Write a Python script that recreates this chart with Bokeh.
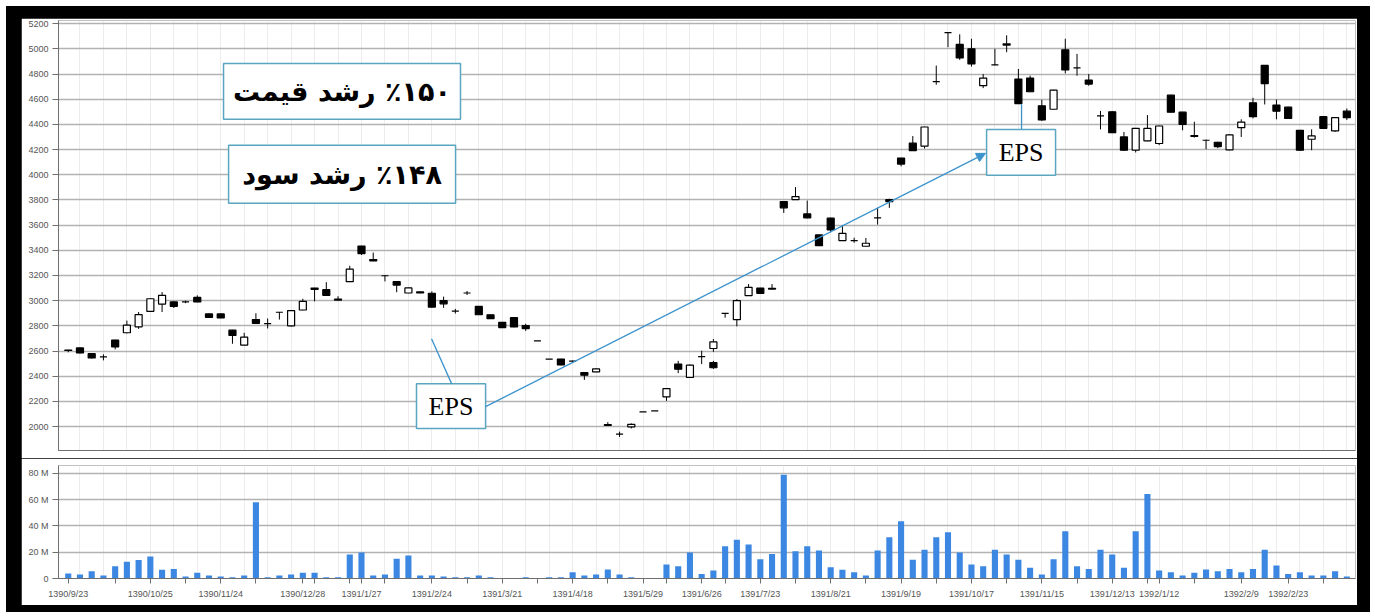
from bokeh.plotting import figure
from bokeh.models import (ColumnDataSource, Range1d, FixedTicker, BoxAnnotation,
                          Label, Arrow, NormalHead, Spacer)
from bokeh.layouts import column, row
from bokeh.embed import file_html
from bokeh.resources import INLINE

# ---------------- data (one entry per trading session) ----------------
opens = [2605, 2625, 2579, 2553, 2687, 2745, 2792, 2915, 2973, 2990,
         2990, 3026, 2895, 2895, 2766, 2647, 2850, 2818, 2908, 2800,
         2926, 3100, 3087, 3005, 3151, 3434, 3316, 3198, 3151, 3061,
         3069, 3059, 3001, 2917, 3061, 2954, 2888, 2828, 2865, 2802,
         2681, 2536, 2536, 2520, 2429, 2434, 2010, 1940, 1997, 2117,
         2125, 2236, 2496, 2390, 2555, 2620, 2899, 2849, 3040, 3100,
         3092, 3787, 3803, 3689, 3522, 3655, 3477, 3477, 3432, 3657,
         3803, 4133, 4251, 4227, 4739, 5128, 5035, 5000, 4707, 4872,
         5030, 4760, 4768, 4547, 4520, 4992, 4848, 4752, 4467, 4500,
         4300, 4195, 4269, 4248, 4632, 4497, 4310, 4274, 4258, 4198,
         4374, 4571, 4868, 4553, 4537, 4353, 4282, 4461, 4348, 4505]
highs = [2610, 2628, 2582, 2574, 2690, 2842, 2910, 3020, 3068, 2995,
         3000, 3042, 2897, 2897, 2768, 2745, 2900, 2858, 2910, 2925,
         3015, 3102, 3147, 3035, 3277, 3436, 3382, 3202, 3153, 3103,
         3072, 3074, 3032, 2935, 3077, 2957, 2890, 2830, 2870, 2817,
         2681, 2536, 2538, 2525, 2431, 2460, 2035, 1960, 2025, 2117,
         2125, 2305, 2522, 2492, 2602, 2695, 2902, 3013, 3132, 3102,
         3132, 3790, 3902, 3795, 3525, 3660, 3597, 3500, 3498, 3737,
         3810, 4135, 4307, 4382, 4867, 5130, 5115, 5080, 4800, 5000,
         5107, 4840, 4787, 4595, 4675, 5080, 4960, 4800, 4507, 4505,
         4340, 4372, 4474, 4390, 4635, 4500, 4421, 4278, 4262, 4320,
         4440, 4611, 4870, 4597, 4540, 4356, 4361, 4463, 4456, 4526]
lows = [2590, 2580, 2540, 2526, 2613, 2740, 2776, 2912, 2910, 2942,
        2980, 2988, 2866, 2861, 2658, 2645, 2818, 2779, 2850, 2795,
        2923, 2995, 3040, 3003, 3148, 3363, 3314, 3153, 3067, 3059,
        3060, 2944, 2943, 2898, 3045, 2886, 2855, 2784, 2789, 2760,
        2681, 2536, 2487, 2505, 2371, 2432, 2008, 1918, 1985, 2117,
        2125, 2204, 2424, 2388, 2496, 2594, 2865, 2796, 3037, 3056,
        3090, 3697, 3800, 3655, 3435, 3543, 3475, 3460, 3430, 3604,
        3737, 4067, 4190, 4208, 4715, 5013, 4912, 4859, 4688, 4870,
        4973, 4563, 4656, 4427, 4518, 4805, 4787, 4707, 4360, 4330,
        4190, 4177, 4266, 4235, 4495, 4353, 4295, 4203, 4211, 4195,
        4300, 4448, 4558, 4440, 4445, 4190, 4195, 4365, 4340, 4435]
closes = [2608, 2585, 2545, 2553, 2632, 2805, 2889, 3015, 3042, 2955,
          2990, 2990, 2868, 2863, 2724, 2710, 2820, 2818, 2908, 2921,
          2995, 3090, 3042, 3012, 3250, 3374, 3326, 3198, 3124, 3101,
          3062, 2949, 2975, 2917, 3061, 2888, 2857, 2786, 2791, 2778,
          2681, 2536, 2489, 2520, 2408, 2458, 2015, 1940, 2018, 2117,
          2125, 2302, 2456, 2488, 2555, 2673, 2899, 3000, 3106, 3058,
          3098, 3737, 3827, 3658, 3437, 3562, 3535, 3477, 3456, 3657,
          3787, 4085, 4192, 4379, 4739, 5128, 4928, 4880, 4768, 4872,
          5040, 4565, 4659, 4435, 4672, 4832, 4848, 4720, 4467, 4334,
          4195, 4369, 4369, 4387, 4497, 4400, 4305, 4274, 4224, 4316,
          4418, 4461, 4724, 4505, 4447, 4195, 4308, 4369, 4453, 4453]
# trading volume, millions of shares
volume_m = [3.8, 3.0, 5.6, 2.3, 9.4, 12.7, 14.0, 16.7, 6.6, 7.3,
            1.5, 4.3, 2.3, 1.5, 1.0, 2.3, 58.0, 1.0, 2.3, 3.0,
            4.3, 4.3, 1.0, 1.0, 18.2, 19.7, 2.3, 3.0, 15.0, 17.5,
            2.3, 2.3, 1.5, 1.0, 1.0, 2.3, 1.0, 0.3, 0.0, 1.0,
            0.0, 1.0, 1.0, 4.8, 2.3, 3.0, 6.8, 3.0, 1.0, 0.0,
            0.0, 10.6, 9.4, 19.7, 3.5, 6.0, 24.5, 29.4, 25.8, 14.7,
            18.7, 79.0, 20.8, 24.6, 21.3, 8.6, 6.6, 4.8, 2.3, 21.3,
            31.4, 43.5, 14.2, 21.8, 31.4, 35.2, 19.7, 10.6, 9.4, 21.8,
            18.2, 14.2, 8.1, 3.0, 14.7, 36.0, 9.4, 7.3, 21.8, 18.2,
            8.1, 36.0, 64.3, 6.0, 4.8, 2.3, 4.3, 6.8, 5.6, 7.3,
            4.8, 7.3, 21.8, 9.9, 3.5, 4.8, 2.3, 2.3, 5.6, 1.5]
# a second print drawn on the same session
extra_session = [55]
extra_open = [2509]
extra_high = [2522]
extra_low = [2458]
extra_close = [2467]

price_ticks = [2000, 2200, 2400, 2600, 2800, 3000, 3200, 3400, 3600, 3800,
               4000, 4200, 4400, 4600, 4800, 5000, 5200]
volume_ticks = [0, 20, 40, 60, 80]
volume_tick_labels = ["0", "20 M", "40 M", "60 M", "80 M"]
date_tick_sessions = [0, 4, 7, 10, 13, 16, 20, 21, 24, 25, 27, 31, 34, 37, 40,
                      43, 46, 49, 51, 54, 56, 59, 62, 65, 68, 71, 74, 77, 80,
                      83, 86, 89, 92, 93, 96, 100, 104, 107]
date_label_sessions = [0, 7, 13, 20, 25, 31, 37, 43, 49, 54, 59, 65, 71, 77,
                       83, 89, 93, 100, 104]
date_labels = ["1390/9/23", "1390/10/25", "1390/11/24", "1390/12/28",
               "1391/1/27", "1391/2/24", "1391/3/21", "1391/4/18",
               "1391/5/29", "1391/6/26", "1391/7/23", "1391/8/21",
               "1391/9/19", "1391/10/17", "1391/11/15", "1391/12/13",
               "1392/1/12", "1392/2/9", "1392/2/23"]

price_note = "\u200f٪۱۵۰ رشد قیمت"
profit_note = "\u200f٪۱۴۸ رشد سود"
eps_note = "EPS"

# ---------------- sources ----------------
n = len(opens)
xs = list(range(n)) + extra_session
o_all = opens + extra_open
h_all = highs + extra_high
l_all = lows + extra_low
c_all = closes + extra_close
candles = ColumnDataSource(dict(
    x=xs, high=h_all, low=l_all,
    top=[max(a, b) for a, b in zip(o_all, c_all)],
    bottom=[min(a, b) for a, b in zip(o_all, c_all)],
    fill=["white" if c >= o else "black" for o, c in zip(o_all, c_all)],
))
vols = ColumnDataSource(dict(x=list(range(n)), v=volume_m))

x_range = Range1d(-0.83, 109.74)
AXIS = "#6f6f6f"
GRID_H = "#b2b2b2"
GRID_V = "#ececec"
LABEL_C = "#555555"
NOTE_LINE = "#3b93cc"
BOX_LINE = "#5aa5c0"

# ---------------- price pane ----------------
p1 = figure(width=1336, height=440, x_range=x_range, y_range=Range1d(1810, 5225),
            output_backend="svg", toolbar_location=None,
            min_border_left=37, min_border_right=2, min_border_top=2,
            min_border_bottom=8)
p1.outline_line_color = None
p1.background_fill_color = "white"
p1.border_fill_color = "white"

p1.yaxis.ticker = FixedTicker(ticks=price_ticks)
p1.yaxis.major_label_text_font_size = "9px"
p1.yaxis.major_label_text_font = "Liberation Sans"
p1.yaxis.major_label_text_color = LABEL_C
p1.yaxis.major_label_standoff = 4
p1.yaxis.axis_line_color = AXIS
p1.yaxis.major_tick_line_color = AXIS
p1.yaxis.major_tick_out = 6
p1.yaxis.major_tick_in = 0
p1.yaxis.minor_tick_line_color = None

p1.xaxis.ticker = FixedTicker(ticks=[])
p1.xaxis.major_label_text_font_size = "0px"
p1.xaxis.major_tick_line_color = None
p1.xaxis.minor_tick_line_color = None
p1.xaxis.axis_line_color = AXIS

p1.ygrid.ticker = FixedTicker(ticks=price_ticks)
p1.ygrid.grid_line_color = GRID_H
p1.ygrid.grid_line_width = 1.6
p1.xgrid.ticker = FixedTicker(ticks=list(range(1, 110, 2)))
p1.xgrid.grid_line_color = GRID_V

p1.segment(x0="x", y0="low", x1="x", y1="high", source=candles,
           line_color="black", line_width=1)
p1.vbar(x="x", width=0.6, top="top", bottom="bottom", source=candles,
        fill_color="fill", line_color="black", line_width=1.2)

# annotation boxes and leader lines
for left, right, top, bottom in [(13.24, 33.44, 4883, 4440),
                                 (13.67, 33.02, 4234, 3774),
                                 (29.69, 35.58, 2341, 1984),
                                 (78.29, 84.17, 4360, 3996)]:
    p1.add_layout(BoxAnnotation(left=left, right=right, top=top, bottom=bottom,
                                fill_color="white", fill_alpha=1.0,
                                line_color=BOX_LINE, line_width=1.5,
                                line_alpha=1.0))

p1.add_layout(Arrow(x_start=30.97, y_start=2697, x_end=32.68, y_end=2341,
                    end=None, line_color=NOTE_LINE, line_width=1.3))
p1.add_layout(Arrow(x_start=35.58, y_start=2158, x_end=78.2, y_end=4170,
                    end=NormalHead(size=9, fill_color=NOTE_LINE,
                                   line_color=NOTE_LINE),
                    line_color=NOTE_LINE, line_width=1.3))
p1.add_layout(Arrow(x_start=81.27, y_start=4560, x_end=81.27, y_end=4360,
                    end=None, line_color=NOTE_LINE, line_width=1.3))

p1.add_layout(Label(x=23.34, y=4661, text=price_note, text_align="center",
                    text_baseline="middle", text_font="DejaVu Sans",
                    text_font_style="bold", text_font_size="27px",
                    text_color="black"))
p1.add_layout(Label(x=23.34, y=4004, text=profit_note, text_align="center",
                    text_baseline="middle", text_font="DejaVu Sans",
                    text_font_style="bold", text_font_size="27px",
                    text_color="black"))
for cx, cy in [(32.63, 2163), (81.23, 4178)]:
    p1.add_layout(Label(x=cx, y=cy, text=eps_note, text_align="center",
                        text_baseline="middle", text_font="Liberation Serif",
                        text_font_size="26px", text_color="black"))

# ---------------- volume pane ----------------
p2 = figure(width=1336, height=147, x_range=x_range, y_range=Range1d(0, 86),
            output_backend="svg", toolbar_location=None,
            min_border_left=37, min_border_right=2, min_border_top=7,
            min_border_bottom=27)
p2.outline_line_color = None
p2.background_fill_color = "white"
p2.border_fill_color = "white"

p2.yaxis.ticker = FixedTicker(ticks=volume_ticks)
p2.yaxis.major_label_overrides = dict(zip(volume_ticks, volume_tick_labels))
p2.yaxis.major_label_text_font_size = "9px"
p2.yaxis.major_label_text_font = "Liberation Sans"
p2.yaxis.major_label_text_color = LABEL_C
p2.yaxis.major_label_standoff = 4
p2.yaxis.axis_line_color = AXIS
p2.yaxis.major_tick_line_color = AXIS
p2.yaxis.major_tick_out = 6
p2.yaxis.major_tick_in = 0
p2.yaxis.minor_tick_line_color = None

label_map = {s: "" for s in date_tick_sessions}
label_map.update(dict(zip(date_label_sessions, date_labels)))
p2.xaxis.ticker = FixedTicker(ticks=sorted(label_map))
p2.xaxis.major_label_overrides = label_map
p2.xaxis.major_label_text_font_size = "9px"
p2.xaxis.major_label_text_font = "Liberation Sans"
p2.xaxis.major_label_text_color = LABEL_C
p2.xaxis.major_label_standoff = 5
p2.xaxis.axis_line_color = AXIS
p2.xaxis.major_tick_line_color = AXIS
p2.xaxis.major_tick_out = 5
p2.xaxis.major_tick_in = 0
p2.xaxis.minor_tick_line_color = None

p2.ygrid.ticker = FixedTicker(ticks=volume_ticks)
p2.ygrid.grid_line_color = GRID_H
p2.ygrid.grid_line_width = 1.6
p2.xgrid.ticker = FixedTicker(ticks=list(range(1, 110, 2)))
p2.xgrid.grid_line_color = GRID_V

p2.vbar(x="x", top="v", bottom=0, width=0.52, source=vols,
        fill_color="#3b87e2", line_color=None)

# black frame around the white chart area, set a little in from the page edge
inner = column(Spacer(width=1336, height=12), p1, p2,
               Spacer(width=1336, height=7), spacing=0)
framed = row(Spacer(width=15, height=606), inner, Spacer(width=13, height=606),
             spacing=0, styles={"background-color": "black"})
layout = column(Spacer(width=1370, height=6),
                row(Spacer(width=6, height=606), framed, spacing=0),
                spacing=0)

with open("out.html", "w") as f:
    f.write(file_html(layout, INLINE))
